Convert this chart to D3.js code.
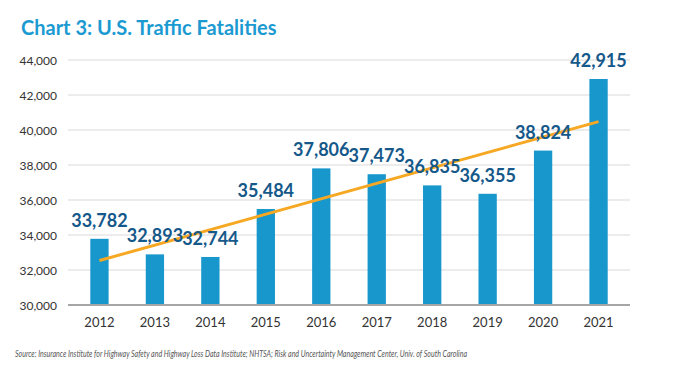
<!DOCTYPE html>
<html>
<head>
<meta charset="utf-8">
<script src="https://cdn.jsdelivr.net/npm/d3@7"></script>
<style>
body{margin:0;background:#fff;}
text{font-family:Lato,"Open Sans",sans-serif;}
</style>
</head>
<body>
<div id="chart"></div>
<script>
var width = 674
var height = 380
var years = ["2012","2013","2014","2015","2016","2017","2018","2019","2020","2021"]
var fatalities = [33782,32893,32744,35484,37806,37473,36835,36355,38824,42915]
var yTicks = [30000,32000,34000,36000,38000,40000,42000,44000]
// trend line ends
var trendYears = ["2012","2021"]
var trendValues = [32540,40480]

var barColor = "#1797cc"
var labelColor = "#15588a"
var trendColor = "#f7a823"

var svg = d3.select("#chart").append("svg")
	.attr("width",width)
	.attr("height",height)

svg.append("rect").attr("width",width).attr("height",height).attr("fill","#fff")

svg.append("text")
	.attr("x",21)
	.attr("y",35)
	.attr("fill","#1b9ad2")
	.style("font-size","20px")
	.style("font-weight","bold")
	.text("Chart 3: U.S. Traffic Fatalities")

var x = d3.scaleBand().domain(years).range([72,626]).paddingInner(0.67).paddingOuter(0.33)
var y = d3.scaleLinear().domain([30000,44000]).range([305,60])

// gridlines
svg.selectAll(".grid")
	.data(yTicks.slice(1))
	.enter()
	.append("line")
	.attr("x1",68)
	.attr("x2",630)
	.attr("y1",function(d){return y(d)})
	.attr("y2",function(d){return y(d)})
	.attr("stroke","#d9d9d9")
	.attr("stroke-width",1)

var yAxis = d3.axisLeft(y).tickValues(yTicks).tickSize(0).tickPadding(0).tickFormat(d3.format(","))
svg.append("g")
	.attr("transform","translate(57,0)")
	.call(yAxis)
	.call(function(g){g.select(".domain").remove()})
	.selectAll("text")
	.attr("fill","#333")
	.attr("dy","0.35em")
	.style("font-size","12px")

svg.selectAll(".bar")
	.data(fatalities)
	.enter()
	.append("rect")
	.attr("class","bar")
	.attr("x",function(d,i){return x(years[i])})
	.attr("width",x.bandwidth())
	.attr("y",function(d){return y(d)})
	.attr("height",function(d){return y(30000)-y(d)})
	.attr("fill",barColor)

// baseline
svg.append("line")
	.attr("x1",68).attr("x2",630)
	.attr("y1",y(30000)).attr("y2",y(30000))
	.attr("stroke","#a6a6a6")
	.attr("stroke-width",2)

var xAxis = d3.axisBottom(x).tickSize(0).tickPadding(0)
svg.append("g")
	.attr("transform","translate(0,"+y(30000)+")")
	.call(xAxis)
	.call(function(g){g.select(".domain").remove()})
	.selectAll("text")
	.attr("y",22)
	.attr("dy",0)
	.attr("fill","#333")
	.style("font-size","13px")

// trend line
var line = d3.line()
	.x(function(d,i){return x(trendYears[i])+x.bandwidth()/2})
	.y(function(d){return y(d)})
svg.append("path")
	.datum(trendValues)
	.attr("d",line)
	.attr("fill","none")
	.attr("stroke",trendColor)
	.attr("stroke-width",3)

svg.selectAll(".label")
	.data(fatalities)
	.enter()
	.append("text")
	.attr("x",function(d,i){return x(years[i])+x.bandwidth()/2})
	.attr("y",function(d){return y(d)-12})
	.attr("text-anchor","middle")
	.attr("fill",labelColor)
	.style("font-size","18px")
	.style("font-weight","bold")
	.text(d3.format(","))

svg.append("text")
	.attr("x",15)
	.attr("y",357)
	.attr("fill","#555")
	.attr("textLength",452)
	.attr("lengthAdjust","spacingAndGlyphs")
	.style("font-size","9.5px")
	.style("font-style","italic")
	.text("Source: Insurance Institute for Highway Safety and Highway Loss Data Institute; NHTSA; Risk and Uncertainty Management Center, Univ. of South Carolina")
</script>
</body>
</html>
